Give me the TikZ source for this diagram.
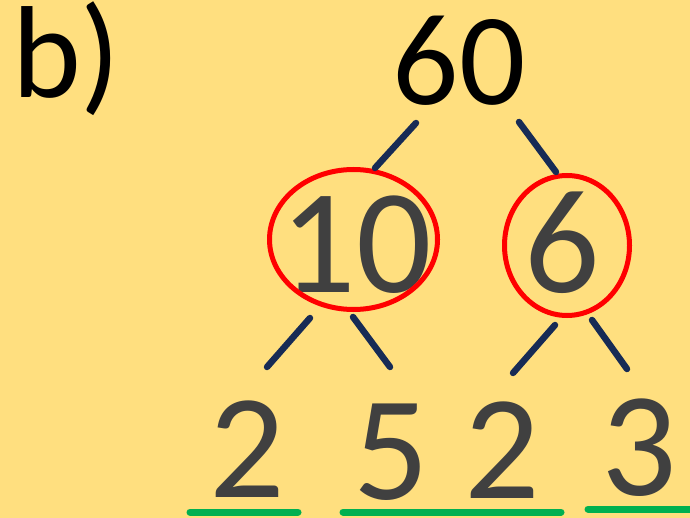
\documentclass[tikz,border=0pt]{standalone}
\usepackage{fontspec}
\setmainfont{Carlito}
\usetikzlibrary{shapes.geometric}
\definecolor{bg}{HTML}{FFDF7F}
\definecolor{numgray}{HTML}{404040}
\definecolor{navy}{HTML}{172B55}
\definecolor{ringred}{HTML}{FF0000}
\definecolor{ulgreen}{HTML}{00B050}
\tikzset{
  big/.style={anchor=base, inner sep=0pt, text depth=0pt, font=\fontsize{149}{149}\selectfont, text=numgray},
  top/.style={anchor=base, inner sep=0pt, text depth=0pt, font=\fontsize{131}{131}\selectfont, text=black},
  branch/.style={draw=navy, line width=6.5pt, line cap=round},
  ring/.style={ellipse, draw=ringred, line width=5pt, inner sep=0pt},
  under/.style={draw=ulgreen, line width=7pt, line cap=round}
}
\begin{document}
\begin{tikzpicture}[x=1pt,y=-1pt]
\fill[bg] (0,0) rectangle (690,518);
\useasboundingbox (0,0) rectangle (690,518);
% labels
\node[top, anchor=base west] (lbl) at (12,98) {b)};
\node[top] (n60) at (459,105) {60};
\node[big] (n10) at (356,293) {10};
\node[big] (n6) at (562,293) {6};
\node[big] (n2a) at (247,497) {2};
\node[big] (n5) at (391,499) {5};
\node[big] (n2b) at (502,498) {2};
\node[big] (n3) at (639,495) {3};
% rings
\node[ring, minimum width=168pt, minimum height=140pt] (r10) at (353.5,239.5) {};
\node[ring, minimum width=125pt, minimum height=140pt] (r6) at (567,245.5) {};
% branch end points
\coordinate (a1) at (416,123); \coordinate (a2) at (375,168);
\coordinate (b1) at (519,122); \coordinate (b2) at (556,172);
\coordinate (c1) at (310,318); \coordinate (c2) at (267,367);
\coordinate (d1) at (353,317); \coordinate (d2) at (390,367);
\coordinate (e1) at (555,325); \coordinate (e2) at (513,373);
\coordinate (f1) at (592,320); \coordinate (f2) at (627,369);
\draw[branch] (a1) -- (a2);
\draw[branch] (b1) -- (b2);
\draw[branch] (c1) -- (c2);
\draw[branch] (d1) -- (d2);
\draw[branch] (e1) -- (e2);
\draw[branch] (f1) -- (f2);
% underlines
\coordinate (u1) at (190,512); \coordinate (u2) at (298,512);
\coordinate (u3) at (343,512); \coordinate (u4) at (453,512);
\coordinate (u5) at (561,512);
\coordinate (u6) at (588,509); \coordinate (u7) at (694,509);
\draw[under] (u1) -- (u2);
\draw[under] (u3) -- (u4);
\draw[under] (u4) -- (u5);
\draw[under] (u6) -- (u7);
\end{tikzpicture}
\end{document}
